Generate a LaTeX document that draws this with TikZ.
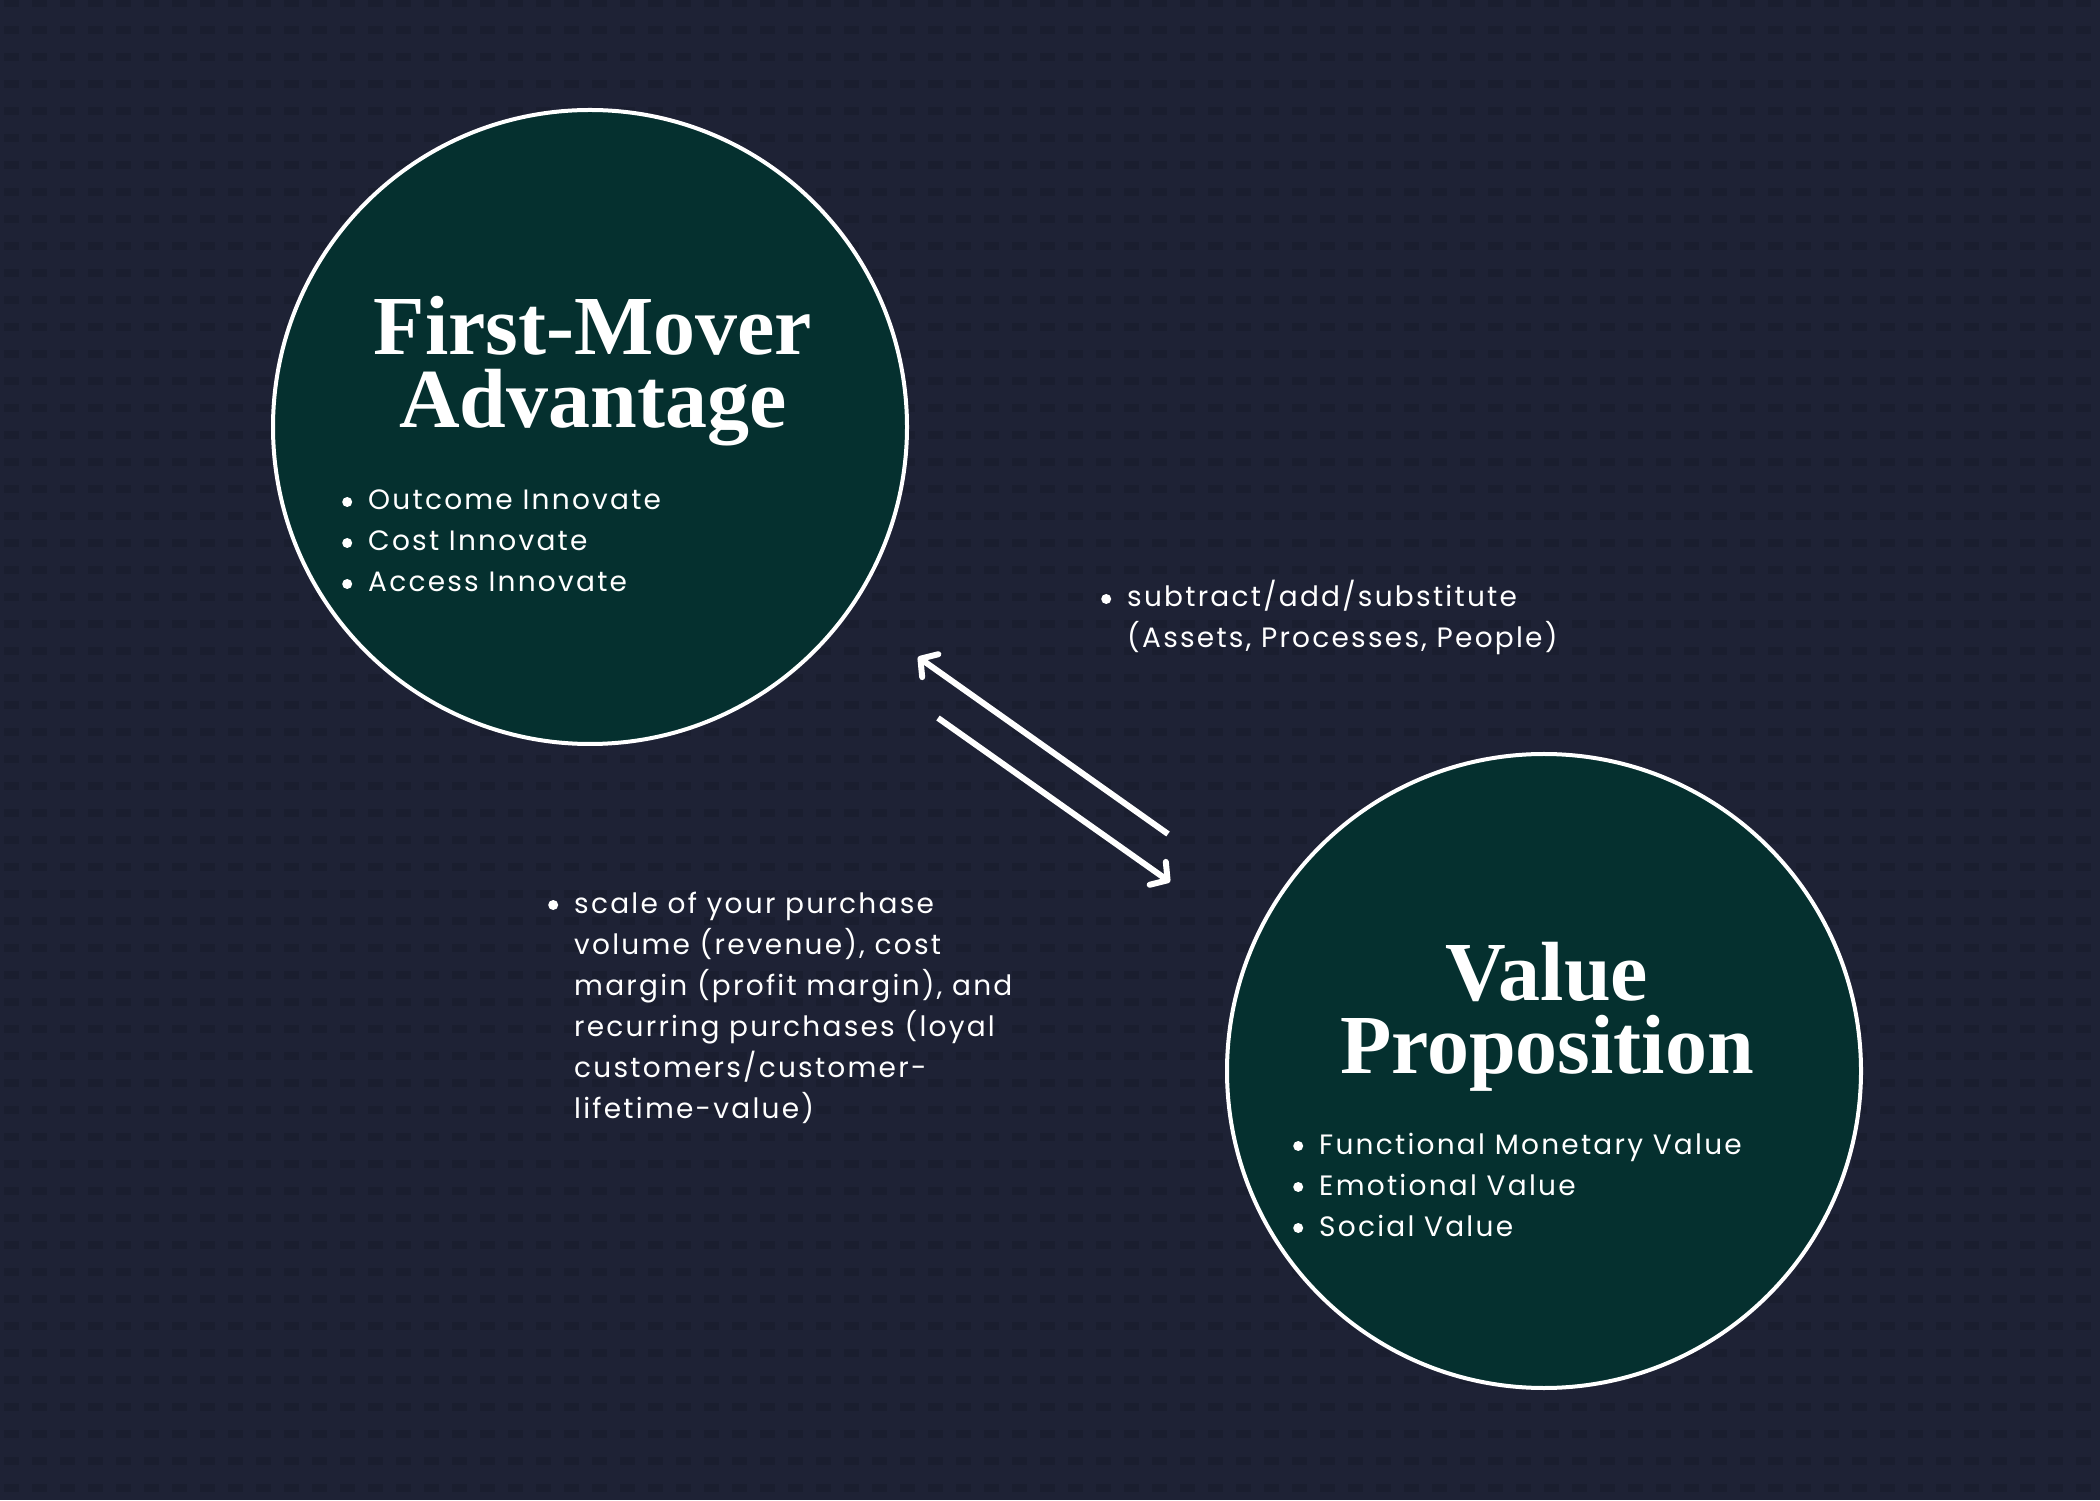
\documentclass[tikz,border=0pt]{standalone}
\usepackage{fontspec}
\setmainfont{Poppins}
\newfontfamily\titlefont{Liberation Serif}
\usetikzlibrary{arrows.meta}
\definecolor{bgnavy}{HTML}{1E2235}
\definecolor{bgdot}{HTML}{1A1E2F}
\definecolor{circteal}{HTML}{05302F}
\newcommand{\bul}{\makebox[26pt][l]{\raisebox{3pt}{\tikz\fill[white] (0,0) circle (5pt);}}}
\newcommand{\ind}{\hspace*{26pt}}
\tikzset{
  bubble/.style={circle, minimum size=634pt, inner sep=0pt, fill=circteal, draw=white, line width=4pt},
  titletext/.style={text=white, font=\titlefont\bfseries\fontsize{84}{73}\selectfont, align=center, inner sep=0pt},
  bodytext/.style={text=white, font=\fontsize{28}{41}\selectfont\addfontfeature{LetterSpace=8}, align=left, inner sep=0pt},
  flow/.style={draw=white, line width=6pt, -{Straight Barb[length=12pt, width=28pt, line cap=round, line join=round]}},
}
\begin{document}
\begin{tikzpicture}[x=1pt,y=1pt]
\fill[bgnavy] (0,0) rectangle (2100,1500);
\useasboundingbox (0,0) rectangle (2100,1500);
% background texture
\foreach \j in {0,...,55}{
  \foreach \i in {0,...,75}{
    \fill[bgdot] (\i*28+4, \j*27+8) rectangle ++(15,8);
  }
}
% circles
\node[bubble] (fma) at (590,1073) {};
\node[bubble] (vp) at (1544,429) {};
% titles (base anchor = last line)
\node[titletext, anchor=base] (fmat) at (593,1072) {First-Mover\\Advantage};
\node[titletext, anchor=base] (vpt) at (1547,427) {Value\\Proposition};
% bullet lists (base anchor = last line)
\node[bodytext, anchor=base west] (fmal) at (342,908) {\bul Outcome Innovate\\ \bul Cost Innovate\\ \bul Access Innovate};
\node[bodytext, anchor=base west] (vpl) at (1293,264) {\bul Functional Monetary Value\\ \bul Emotional Value\\ \bul Social Value};
\node[bodytext, anchor=base west] (subl) at (1101,852) {\bul subtract/add/substitute\\ \ind(Assets, Processes, People)};
\node[bodytext, anchor=base west] (scal) at (548,382) {\bul scale of your purchase\\ \ind volume (revenue), cost\\ \ind margin (profit margin), and\\ \ind recurring purchases (loyal\\ \ind customers/customer-\\ \ind lifetime-value)};
% arrows
\coordinate (a1s) at (1168,666);
\coordinate (a1e) at (918,843);
\coordinate (a2s) at (938,782);
\coordinate (a2e) at (1170,618);
\draw[flow] (a1s) -- (a1e);
\draw[flow] (a2s) -- (a2e);
\end{tikzpicture}
\end{document}
